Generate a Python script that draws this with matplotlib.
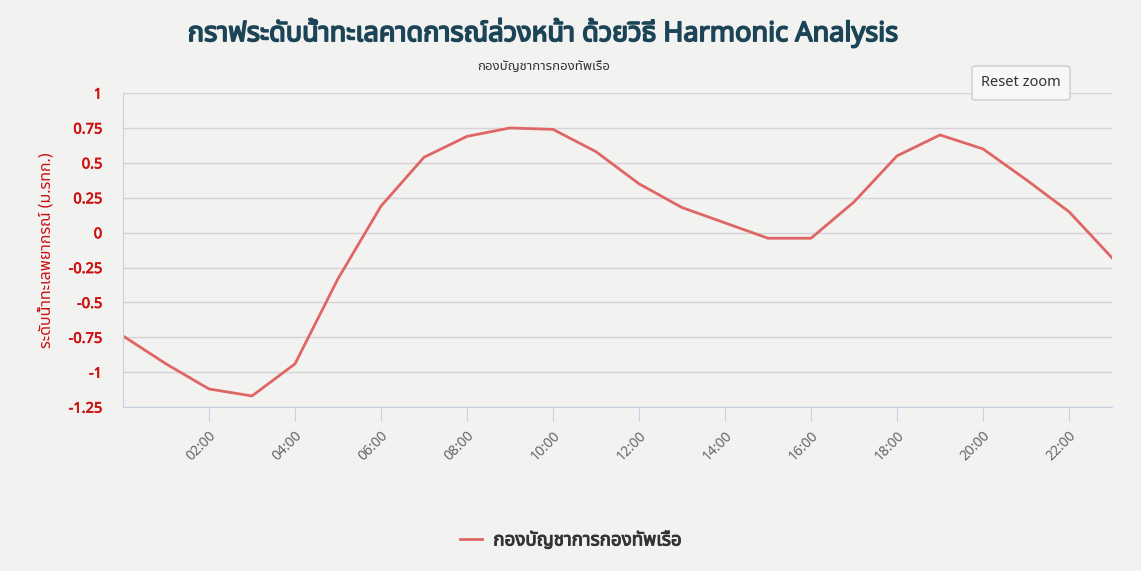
import numpy as np
import matplotlib.pyplot as plt
import matplotlib.patheffects as pe
from matplotlib.patches import FancyBboxPatch

# ระดับน้ำทะเลพยากรณ์รายชั่วโมง (ม.รทก.)
hours = list(range(24))
levels = [-0.74, -0.94, -1.12, -1.17, -0.94, -0.33, 0.19, 0.54, 0.69, 0.75,
          0.74, 0.58, 0.35, 0.18, 0.07, -0.04, -0.04, 0.22, 0.55, 0.70,
          0.60, 0.38, 0.15, -0.18]
tick_hours = list(range(2, 23, 2))
tick_labels = ["%02d:00" % h for h in tick_hours]
y_ticks = [1, 0.75, 0.5, 0.25, 0, -0.25, -0.5, -0.75, -1, -1.25]

title = "กราฟระดับน้ำทะเลคาดการณ์ล่วงหน้า ด้วยวิธี Harmonic Analysis"
subtitle = "กองบัญชาการกองทัพเรือ"
ylabel = "ระดับน้ำทะเลพยากรณ์ (ม.รทก.)"

plt.rcParams['font.family'] = ['Noto Sans Thai', 'Loma', 'Garuda', 'Noto Sans', 'DejaVu Sans']


def heavy(color, w=0.8):
    # เส้นขอบบาง ๆ ให้ตัวอักษรดูหนาขึ้น
    return [pe.withStroke(linewidth=w, foreground=color)]


bg = '#f2f2f0'
red = '#cc1111'
fig = plt.figure(figsize=(11.41, 5.71), dpi=100, facecolor=bg)
ax = fig.add_axes([0.1078, 0.287, 0.8668, 0.550])
ax.set_facecolor(bg)

ax.plot(hours, levels, color='#e06666', lw=2, label=subtitle, solid_joinstyle='round')

ax.set_xlim(0, 23)
ax.set_ylim(-1.25, 1)
ax.set_yticks(y_ticks)
ax.set_yticklabels([("%g" % v) for v in y_ticks], color=red, fontsize=10.5)
for t in ax.get_yticklabels():
    t.set_path_effects(heavy(red, 0.5))
ax.set_xticks(tick_hours)
ax.set_xticklabels(tick_labels, rotation=45, ha='right', rotation_mode='anchor',
                   color='#666666', fontsize=10)
ax.tick_params(axis='y', length=0, pad=15)
ax.tick_params(axis='x', length=10, color='#c6d2e4', pad=5)
ax.grid(axis='y', color='#d8d2d8', lw=1)
for s in ['top', 'right']:
    ax.spines[s].set_visible(False)
for s in ['left', 'bottom']:
    ax.spines[s].set_color('#c6d2e4')
ax.set_ylabel(ylabel, color=red, fontsize=11.5, labelpad=10)

fig.text(0.476, 0.942, title, ha='center', va='center', fontsize=19.5,
         color='#1c4457', path_effects=heavy('#1c4457', 1.2))
fig.text(0.476, 0.883, subtitle, ha='center', va='center', fontsize=9.5, color='#333333')

# ปุ่ม Reset zoom
btn = FancyBboxPatch((972 / 1141, 1 - 100 / 571), 98 / 1141, 34 / 571,
                     boxstyle='round,pad=0,rounding_size=0.004', transform=fig.transFigure,
                     facecolor='#f7f7f7', edgecolor='#cccccc', lw=1)
fig.patches.append(btn)
fig.text(1021 / 1141, 1 - 83 / 571, "Reset zoom", ha='center', va='center',
         fontsize=10.5, color='#333333')

leg = fig.legend(loc='center', bbox_to_anchor=(0.5, 0.055), frameon=False, fontsize=13.5,
                 handlelength=1.2, handletextpad=0.6)
for t in leg.get_texts():
    t.set_color('#333333')
    t.set_path_effects(heavy('#333333', 0.7))

fig.savefig('out.png', dpi=100, facecolor=bg)
